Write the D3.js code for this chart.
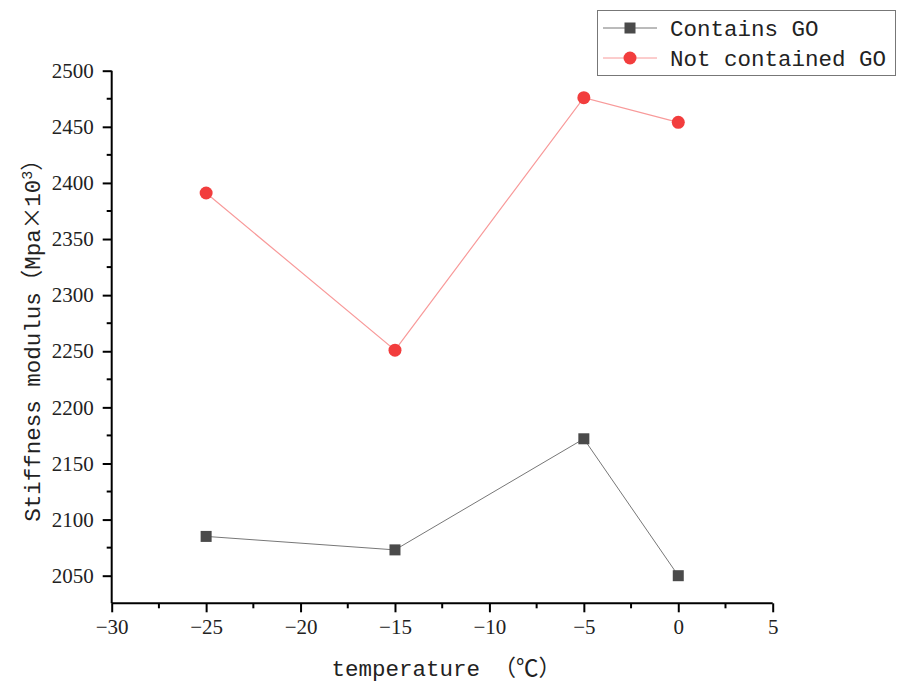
<!DOCTYPE html>
<html>
<head>
<meta charset="utf-8">
<script src="https://cdn.jsdelivr.net/npm/d3@7"></script>
<style>
  body { margin: 0; background: #fff; }
  svg { display: block; }
</style>
</head>
<body>
<svg id="chart" width="897" height="682"></svg>
<script>
const temperatures = [-25, -15, -5, 0];
const containsGO = [2085, 2073, 2172, 2050];
const notContainedGO = [2391, 2251, 2476, 2454];
const xTicks = [-30, -25, -20, -15, -10, -5, 0, 5];
const yTicks = [2050, 2100, 2150, 2200, 2250, 2300, 2350, 2400, 2450, 2500];

const svg = d3.select("#chart");
const plotLeft = 111.7, plotRight = 772.7, plotTop = 70.7, plotBottom = 603.3;

const x = d3.scaleLinear().domain([-30, 5]).range([plotLeft, plotRight]);
const y = d3.scaleLinear().domain([2025.4, 2500]).range([plotBottom, plotTop]);

const mono = "'Liberation Mono', 'DejaVu Sans Mono', monospace";
const serif = "Liberation Serif, Times New Roman, DejaVu Serif, serif";

// minor ticks
const xMinor = d3.range(-27.5, 5, 5);
const yMinor = d3.range(2075, 2500, 50);

svg.append("g").selectAll("line").data(xMinor).join("line")
  .attr("x1", d => x(d)).attr("x2", d => x(d))
  .attr("y1", plotBottom).attr("y2", plotBottom + 5)
  .attr("stroke", "#000").attr("stroke-width", 2);
svg.append("g").selectAll("line").data(yMinor).join("line")
  .attr("x1", plotLeft).attr("x2", plotLeft - 5)
  .attr("y1", d => y(d)).attr("y2", d => y(d))
  .attr("stroke", "#000").attr("stroke-width", 2);

const xAxis = svg.append("g")
  .attr("transform", `translate(0,${plotBottom})`)
  .call(d3.axisBottom(x).tickValues(xTicks).tickSize(9).tickPadding(7)
    .tickFormat(d => d < 0 ? "\u2212" + Math.abs(d) : String(d)));
const yAxis = svg.append("g")
  .attr("transform", `translate(${plotLeft},0)`)
  .call(d3.axisLeft(y).tickValues(yTicks).tickSize(9).tickPadding(9)
    .tickFormat(d3.format("d")));

[xAxis, yAxis].forEach(g => {
  g.attr("font-family", serif).attr("font-size", 21);
  g.select(".domain").attr("stroke", "#000").attr("stroke-width", 2);
  g.selectAll(".tick line").attr("stroke", "#000").attr("stroke-width", 2);
  g.selectAll(".tick text")
    .style("font-family", serif)
    .style("font-size", "21px")
    .attr("fill", "#222");
});
xAxis.select(".domain").attr("d", `M${plotLeft},0H${plotRight}`);
yAxis.select(".domain").attr("d", `M0,${plotBottom}V${plotTop}`);

const line = d3.line().x((d, i) => x(temperatures[i])).y(d => y(d));

svg.append("path").datum(containsGO)
  .attr("d", line).attr("fill", "none")
  .attr("stroke", "#777").attr("stroke-width", 1);
svg.append("path").datum(notContainedGO)
  .attr("d", line).attr("fill", "none")
  .attr("stroke", "#f89a9a").attr("stroke-width", 1.2);

svg.append("g").selectAll("rect").data(containsGO).join("rect")
  .attr("x", (d, i) => x(temperatures[i]) - 5.5)
  .attr("y", d => y(d) - 5.5)
  .attr("width", 11).attr("height", 11)
  .attr("fill", "#4a4a4a");
svg.append("g").selectAll("circle").data(notContainedGO).join("circle")
  .attr("cx", (d, i) => x(temperatures[i]))
  .attr("cy", d => y(d))
  .attr("r", 6.5)
  .attr("fill", "#f23d3d");

// axis titles
const xTitle = svg.append("text")
  .attr("x", (plotLeft + plotRight) / 2 + 4).attr("y", 676)
  .attr("text-anchor", "middle")
  .attr("font-family", mono).attr("font-size", 22.5).attr("fill", "#222");
xTitle.append("tspan").text("temperature ");
xTitle.append("tspan").attr("font-family", "'Noto Sans CJK SC'").text("（℃）");

const yTitle = svg.append("text")
  .attr("transform", "translate(40,335) rotate(-90)")
  .attr("text-anchor", "middle")
  .attr("font-family", mono).attr("font-size", 22.5).attr("fill", "#222");
yTitle.append("tspan").text("Stiffness modulus");
yTitle.append("tspan").attr("font-family", "'Noto Sans CJK SC'").text("（");
yTitle.append("tspan").text("Mpa");
yTitle.append("tspan").attr("font-family", "'Noto Sans CJK SC'").text("×");
yTitle.append("tspan").text("10");
yTitle.append("tspan").attr("dy", -8).attr("font-size", 15).text("3");
yTitle.append("tspan").attr("dy", 8).attr("font-family", "'Noto Sans CJK SC'").text("）");

// legend
const legend = svg.append("g");
legend.append("rect")
  .attr("x", 597.5).attr("y", 10.5).attr("width", 298).attr("height", 65)
  .attr("fill", "#fff").attr("stroke", "#777").attr("stroke-width", 1);
const legendItems = [
  { label: "Contains GO", color: "#777", mark: "#4a4a4a", shape: "square", cy: 28 },
  { label: "Not contained GO", color: "#f89a9a", mark: "#f23d3d", shape: "circle", cy: 58 }
];
legendItems.forEach(it => {
  legend.append("line")
    .attr("x1", 603).attr("x2", 657).attr("y1", it.cy).attr("y2", it.cy)
    .attr("stroke", it.color).attr("stroke-width", 1);
  if (it.shape === "square") {
    legend.append("rect").attr("x", 624.5).attr("y", it.cy - 5.5)
      .attr("width", 11).attr("height", 11).attr("fill", it.mark);
  } else {
    legend.append("circle").attr("cx", 630).attr("cy", it.cy).attr("r", 6.5).attr("fill", it.mark);
  }
  legend.append("text")
    .attr("x", 670).attr("y", it.cy + 8)
    .attr("font-family", mono).attr("font-size", 22.5).attr("fill", "#222")
    .text(it.label);
});
</script>
</body>
</html>
